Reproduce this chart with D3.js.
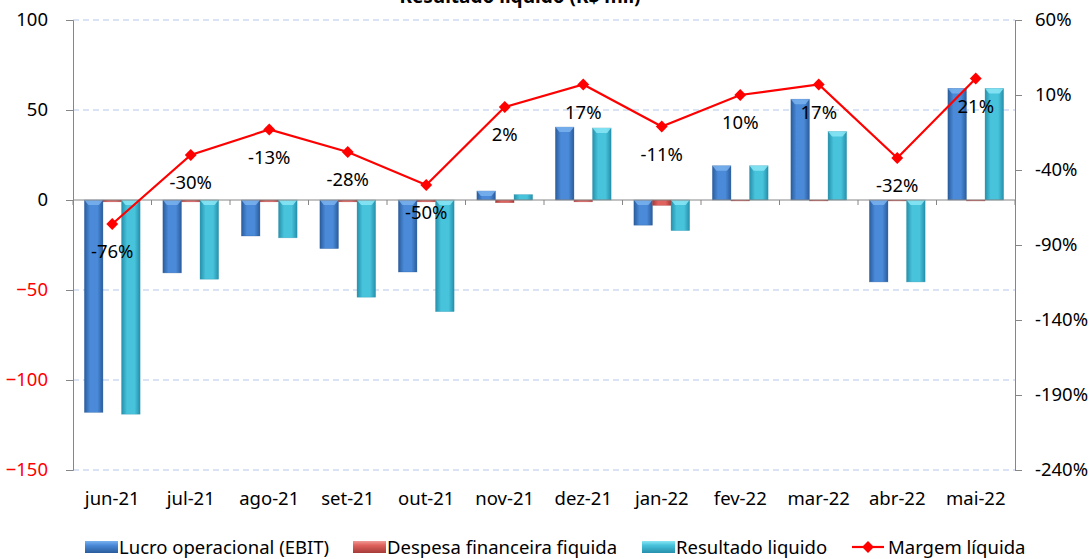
<!DOCTYPE html>
<html>
<head>
<meta charset="utf-8">
<script src="https://cdn.jsdelivr.net/npm/d3@7"></script>
<style>
  body { margin: 0; background: #fff; }
  svg { font-family: "Noto Sans", "Open Sans", sans-serif; }
</style>
</head>
<body>
<div id="chart"></div>
<script>
const width = 1092, height = 559;

const months = ["jun-21", "jul-21", "ago-21", "set-21", "out-21", "nov-21", "dez-21", "jan-22", "fev-22", "mar-22", "abr-22", "mai-22"];
const ebit = [-118, -40.5, -20, -27, -40, 5, 40.5, -14, 19, 56, -45.5, 62];
const despesa = [-1, -1, -1, -1, -1, -1.5, -1, -3, -0.5, -0.5, -0.5, -0.5];
const resultado = [-119, -44, -21, -54, -62, 3, 40, -17, 19, 38, -45.5, 62];
const margem = [-76, -30, -13, -28, -50, 2, 17, -11, 10, 17, -32, 21];
const leftTicks = [100, 50, 0, -50, -100, -150];
const rightTicks = [60, 10, -40, -90, -140, -190, -240];

const series = [
  { key: "ebit", name: "Lucro operacional (EBIT)", values: ebit, c0: "#2a5c9c", c1: "#4a8ad8", cap: "#7ab2ee" },
  { key: "desp", name: "Despesa financeira fiquida", values: despesa, c0: "#a53a37", c1: "#e0625e", cap: "#f09a96" },
  { key: "res", name: "Resultado liquido", values: resultado, c0: "#2590ab", c1: "#48c3dc", cap: "#8ae6f4" }
];

const plot = { left: 73, right: 1015, top: 20, bottom: 470 };
const fs = 18.5;

const svg = d3.select("#chart").append("svg")
  .attr("width", width).attr("height", height);

const defs = svg.append("defs");
series.forEach(s => {
  const g = defs.append("linearGradient").attr("id", "grad-" + s.key)
    .attr("x1", 0).attr("x2", 1).attr("y1", 0).attr("y2", 0);
  g.append("stop").attr("offset", "0%").attr("stop-color", s.c0);
  g.append("stop").attr("offset", "30%").attr("stop-color", s.c1);
  g.append("stop").attr("offset", "70%").attr("stop-color", s.c1);
  g.append("stop").attr("offset", "100%").attr("stop-color", s.c0);
});

const x = d3.scaleBand().domain(months)
  .range([plot.left, plot.right]).paddingInner(0.29).paddingOuter(0.145);
const xs = d3.scaleBand().domain(series.map(s => s.key))
  .range([0, x.bandwidth()]);
const y = d3.scaleLinear().domain([-150, 100]).range([plot.bottom, plot.top]);
const y2 = d3.scaleLinear().domain([-240, 60]).range([plot.bottom, plot.top]);

// gridlines
svg.append("g").selectAll("line")
  .data(leftTicks.filter(d => d !== 0))
  .join("line")
  .attr("x1", plot.left).attr("x2", plot.right)
  .attr("y1", d => y(d)).attr("y2", d => y(d))
  .attr("stroke", "#b4c7e7").attr("stroke-width", 1.2)
  .attr("stroke-dasharray", "6,4");

// title (cut at top, as in the original)
svg.append("text")
  .attr("x", 520).attr("y", 3)
  .attr("text-anchor", "middle")
  .attr("font-size", 19).attr("font-weight", "bold")
  .text("Resultado líquido (R$ mil)");

// bars
series.forEach(s => {
  const g = svg.append("g");
  const bars = g.selectAll("g").data(s.values.map((v, i) => ({ v, m: months[i] }))).join("g");
  bars.append("rect")
    .attr("x", d => x(d.m) + xs(s.key))
    .attr("width", xs.bandwidth())
    .attr("y", d => y(Math.max(0, d.v)))
    .attr("height", d => Math.abs(y(d.v) - y(0)))
    .attr("fill", "url(#grad-" + s.key + ")")
    .attr("stroke", s.c0).attr("stroke-opacity", 0.5).attr("stroke-width", 0.6);
  bars.filter(d => Math.abs(y(d.v) - y(0)) > 8).append("path")
    .attr("d", d => {
      const x0 = x(d.m) + xs(s.key), w = xs.bandwidth(), t = y(Math.max(0, d.v));
      return `M${x0},${t}H${x0 + w}L${x0 + w - 4},${t + 5}H${x0 + 4}Z`;
    })
    .attr("fill", s.cap).attr("opacity", 0.85);
});

// zero line + category ticks
svg.append("line")
  .attr("x1", plot.left).attr("x2", plot.right)
  .attr("y1", y(0)).attr("y2", y(0))
  .attr("stroke", "#868686").attr("stroke-width", 1);
svg.append("g").selectAll("line")
  .data(d3.range(months.length + 1))
  .join("line")
  .attr("x1", i => plot.left + i * x.step()).attr("x2", i => plot.left + i * x.step())
  .attr("y1", y(0)).attr("y2", y(0) + 5)
  .attr("stroke", "#868686");

// left axis
const yAxis = svg.append("g").attr("transform", `translate(${plot.left},0)`)
  .call(d3.axisLeft(y).tickValues(leftTicks).tickSize(7).tickPadding(18).tickFormat(d3.format("d")));
yAxis.select(".domain").attr("stroke", "#868686");
yAxis.selectAll(".tick line").attr("stroke", "#868686");
yAxis.selectAll(".tick text")
  .attr("font-size", fs).attr("font-family", "'Noto Sans', sans-serif")
  .attr("fill", d => d < 0 ? "#ff0000" : "#000");

// right axis
const y2Axis = svg.append("g").attr("transform", `translate(${plot.right},0)`)
  .call(d3.axisRight(y2).tickValues(rightTicks).tickSize(7).tickPadding(13).tickFormat(d => d + "%"));
y2Axis.select(".domain").attr("stroke", "#868686");
y2Axis.selectAll(".tick line").attr("stroke", "#868686");
y2Axis.selectAll(".tick text")
  .attr("font-size", fs).attr("font-family", "'Noto Sans', sans-serif")
  .attr("fill", "#000");

// x labels
svg.append("g").selectAll("text")
  .data(months)
  .join("text")
  .attr("x", d => x(d) + x.bandwidth() / 2)
  .attr("y", 505)
  .attr("text-anchor", "middle")
  .attr("font-size", fs)
  .text(d => d);

// margem line
const cx = (d, i) => x(months[i]) + x.bandwidth() / 2;
const line = d3.line().x((d, i) => cx(d, i)).y(d => y2(d));
svg.append("path").datum(margem)
  .attr("d", line)
  .attr("fill", "none").attr("stroke", "#ff0000").attr("stroke-width", 2.2);
svg.append("g").selectAll("path")
  .data(margem)
  .join("path")
  .attr("transform", (d, i) => `translate(${cx(d, i)},${y2(d)})`)
  .attr("d", d3.symbol(d3.symbolDiamond2, 90))
  .attr("fill", "#ff0000");
svg.append("g").selectAll("text")
  .data(margem)
  .join("text")
  .attr("x", (d, i) => cx(d, i))
  .attr("y", d => y2(d) + 34)
  .attr("text-anchor", "middle")
  .attr("font-size", fs)
  .text(d => d + "%");

// legend
const legend = svg.append("g");
const legendX = [85, 353, 642];
series.forEach((s, i) => {
  const lg = legend.append("g").attr("transform", `translate(${legendX[i]},541)`);
  const lgGrad = defs.append("linearGradient").attr("id", "lg-" + s.key)
    .attr("x1", 0).attr("x2", 0).attr("y1", 0).attr("y2", 1);
  lgGrad.append("stop").attr("offset", "0%").attr("stop-color", s.cap);
  lgGrad.append("stop").attr("offset", "35%").attr("stop-color", s.c1);
  lgGrad.append("stop").attr("offset", "100%").attr("stop-color", s.c0);
  lg.append("rect").attr("width", 33).attr("height", 12).attr("fill", "url(#lg-" + s.key + ")");
  lg.append("text").attr("x", 34).attr("y", 13).attr("font-size", fs).text(s.name);
});
const lm = legend.append("g").attr("transform", "translate(852,547)");
lm.append("line").attr("x1", 0).attr("x2", 32).attr("stroke", "#ff0000").attr("stroke-width", 2.2);
lm.append("path").attr("transform", "translate(16,0)")
  .attr("d", d3.symbol(d3.symbolDiamond2, 90)).attr("fill", "#ff0000");
lm.append("text").attr("x", 36).attr("y", 7).attr("font-size", fs).text("Margem líquida");
</script>
</body>
</html>
